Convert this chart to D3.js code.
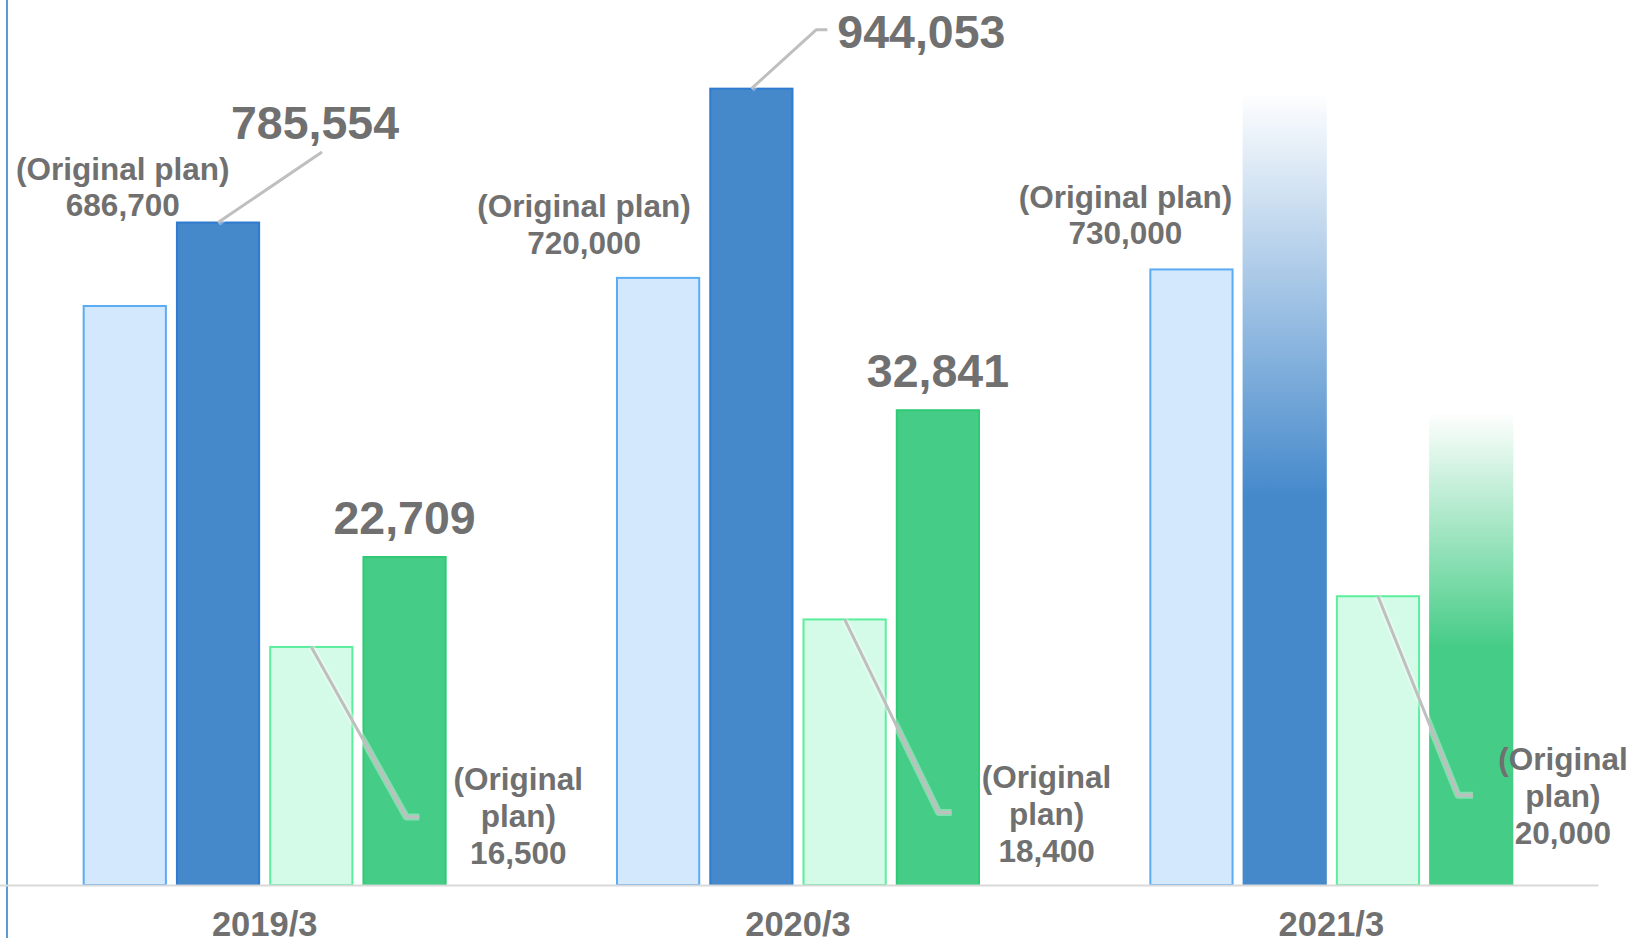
<!DOCTYPE html>
<html><head><meta charset="utf-8">
<script src="https://cdn.jsdelivr.net/npm/d3@7"></script>
<style>html,body{margin:0;padding:0;background:#fff;overflow:hidden}</style>
</head><body><svg id="chart" width="1636" height="944"></svg>
<script>
// ---- data ----
const categories = ["2019/3", "2020/3", "2021/3"];
const seriesKeys = ["salesPlan", "salesActual", "profitPlan", "profitActual"];
const salesPlan = [686700, 720000, 730000];
const salesActual = [785554, 944053, 938900];   // 2021/3 shown as a faded (unlabelled) bar
const profitPlan = [16500, 18400, 20000];
const profitActual = [22709, 32841, 32640];     // 2021/3 shown as a faded (unlabelled) bar
const isForecast = [false, false, true];
const planCaption = "(Original plan)";
const planCaptionLines = ["(Original", "plan)"];

// ---- layout ----
const W = 1636, H = 944;
const baseY = 885, topY = 40.4;
const svg = d3.select("#chart");
const defs = svg.append("defs");
const textColor = "#707070";
const font = "'Liberation Sans', Arial, Helvetica, sans-serif";

const x0 = d3.scaleBand().domain(categories).range([-2, 1598]).paddingInner(0).paddingOuter(0);
const x1 = d3.scaleBand().domain(seriesKeys).range([-182, 182]).paddingInner(0.097);
const yL = d3.scaleLinear().domain([0, 1000000]).range([baseY, topY]);
const yR = d3.scaleLinear().domain([0, 58300]).range([baseY, topY]);

const seriesVals = {salesPlan, salesActual, profitPlan, profitActual};
const scaleFor = k => (k.startsWith("sales") ? yL : yR);
const style = {
  salesPlan:   {fill: "#d3e8fc", stroke: "#5aacf5"},
  salesActual: {fill: "#4589cb", stroke: "#2f7bcf"},
  profitPlan:  {fill: "#d3fbe7", stroke: "#5bee9d"},
  profitActual:{fill: "#45cc86", stroke: "#2fca74"}
};

// gradients for forecast bars
[["gradSales", "#4589cb"], ["gradProfit", "#45cc86"]].forEach(([id, c]) => {
  const g = defs.append("linearGradient").attr("id", id)
    .attr("x1", 0).attr("y1", 0).attr("x2", 0).attr("y2", 1);
  g.append("stop").attr("offset", "0").attr("stop-color", c).attr("stop-opacity", 0);
  g.append("stop").attr("offset", id === "gradSales" ? "0.51" : "0.5").attr("stop-color", c).attr("stop-opacity", 1);
  g.append("stop").attr("offset", "1").attr("stop-color", c).attr("stop-opacity", 1);
});

// rows
const rows = [];
categories.forEach((cat, i) => {
  seriesKeys.forEach(k => {
    rows.push({cat, i, key: k, value: seriesVals[k][i],
      forecast: isForecast[i] && k.endsWith("Actual")});
  });
});

const barX = d => x0(d.cat) + x0.bandwidth() / 2 + x1(d.key);
const barTop = d => scaleFor(d.key)(d.value);
const barCx = d => barX(d) + x1.bandwidth() / 2;

// left axis line
svg.append("line").attr("x1", 7).attr("x2", 7).attr("y1", 0).attr("y2", 938)
  .attr("stroke", "#5b9bd5").attr("stroke-width", 2);

// bars
svg.append("g").selectAll("rect").data(rows).join("rect")
  .attr("x", d => barX(d) + (d.forecast ? 0 : 1))
  .attr("width", d => x1.bandwidth() - (d.forecast ? 0 : 2))
  .attr("y", d => barTop(d) + (d.forecast ? 0 : 1))
  .attr("height", d => baseY - barTop(d) - (d.forecast ? 0 : 1))
  .attr("fill", d => d.forecast ? (d.key === "salesActual" ? "url(#gradSales)" : "url(#gradProfit)") : style[d.key].fill)
  .attr("stroke", d => d.forecast ? "none" : style[d.key].stroke)
  .attr("stroke-width", 2);

// x axis
const xAxis = svg.append("g").attr("transform", `translate(0,${baseY})`)
  .call(d3.axisBottom(x0).tickSize(0).tickSizeOuter(0).tickPadding(27));
xAxis.select(".domain").attr("stroke", "#d9d9d9").attr("stroke-width", 2);
xAxis.selectAll("text").attr("fill", textColor).attr("font-family", font)
  .attr("font-weight", "bold").attr("font-size", 34.5);

// leader line helper
function leader(points) {
  const line = d3.line();
  svg.append("path").attr("d", line(points)).attr("fill", "none")
    .attr("stroke", "rgba(255,255,255,0.35)").attr("stroke-width", 7).attr("stroke-linejoin", "round");
  svg.append("path").attr("d", line(points)).attr("fill", "none")
    .attr("stroke", "#bfbfbf").attr("stroke-width", 3).attr("stroke-linejoin", "round");
}
function label(x, y, lines, size, lh, anchor = "middle") {
  const t = svg.append("text").attr("x", x).attr("y", y).attr("text-anchor", anchor)
    .attr("fill", textColor).attr("font-family", font).attr("font-weight", "bold")
    .attr("font-size", size);
  lines.forEach((s, j) => t.append("tspan").attr("x", x).attr("dy", j === 0 ? 0 : lh).text(s));
}
const fmt = d3.format(",");
const get = (i, k) => rows.find(r => r.i === i && r.key === k);

// sales plan labels (offsets relative to the bar top centre)
const salesPlanLabelOff = [[-2, -89], [-74, -23], [-66, -24]];
categories.forEach((c, i) => {
  const d = get(i, "salesPlan");
  const [dx, dy] = salesPlanLabelOff[i];
  label(barCx(d) + dx, barTop(d) + dy - 36.5, [planCaption, fmt(d.value)], 31.5, 36.5);
});

// sales actual labels
const salesActualLabelOff = [
  {text: [97, -83], line: [[104, -69.5]]},
  {text: [170, -40], line: [[65, -58], [76, -58]]},
  null
];
categories.forEach((c, i) => {
  const o = salesActualLabelOff[i];
  if (!o || isForecast[i]) return;
  const d = get(i, "salesActual");
  const bx = barCx(d), by = barTop(d);
  leader([[bx, by + 1], ...o.line.map(([dx, dy]) => [bx + dx, by + dy])]);
  label(bx + o.text[0], by + o.text[1], [fmt(d.value)], 46.5, 0);
});

// profit plan labels
const profitPlanLabelOff = [
  {text: [207, 144], line: [[95, 171], [108, 171]]},
  {text: [202, 170], line: [[94, 194], [107, 194]]},
  {text: [185, 175], line: [[80, 200], [95, 200]]}
];
categories.forEach((c, i) => {
  const d = get(i, "profitPlan");
  const o = profitPlanLabelOff[i];
  const bx = barCx(d), by = barTop(d);
  leader([[bx, by + 1], ...o.line.map(([dx, dy]) => [bx + dx, by + dy])]);
  label(bx + o.text[0], by + o.text[1], [...planCaptionLines, fmt(d.value)], 31.5, 37);
});

// profit actual labels
categories.forEach((c, i) => {
  if (isForecast[i]) return;
  const d = get(i, "profitActual");
  label(barCx(d), barTop(d) - 22, [fmt(d.value)], 46.5, 0);
});
</script></body></html>
